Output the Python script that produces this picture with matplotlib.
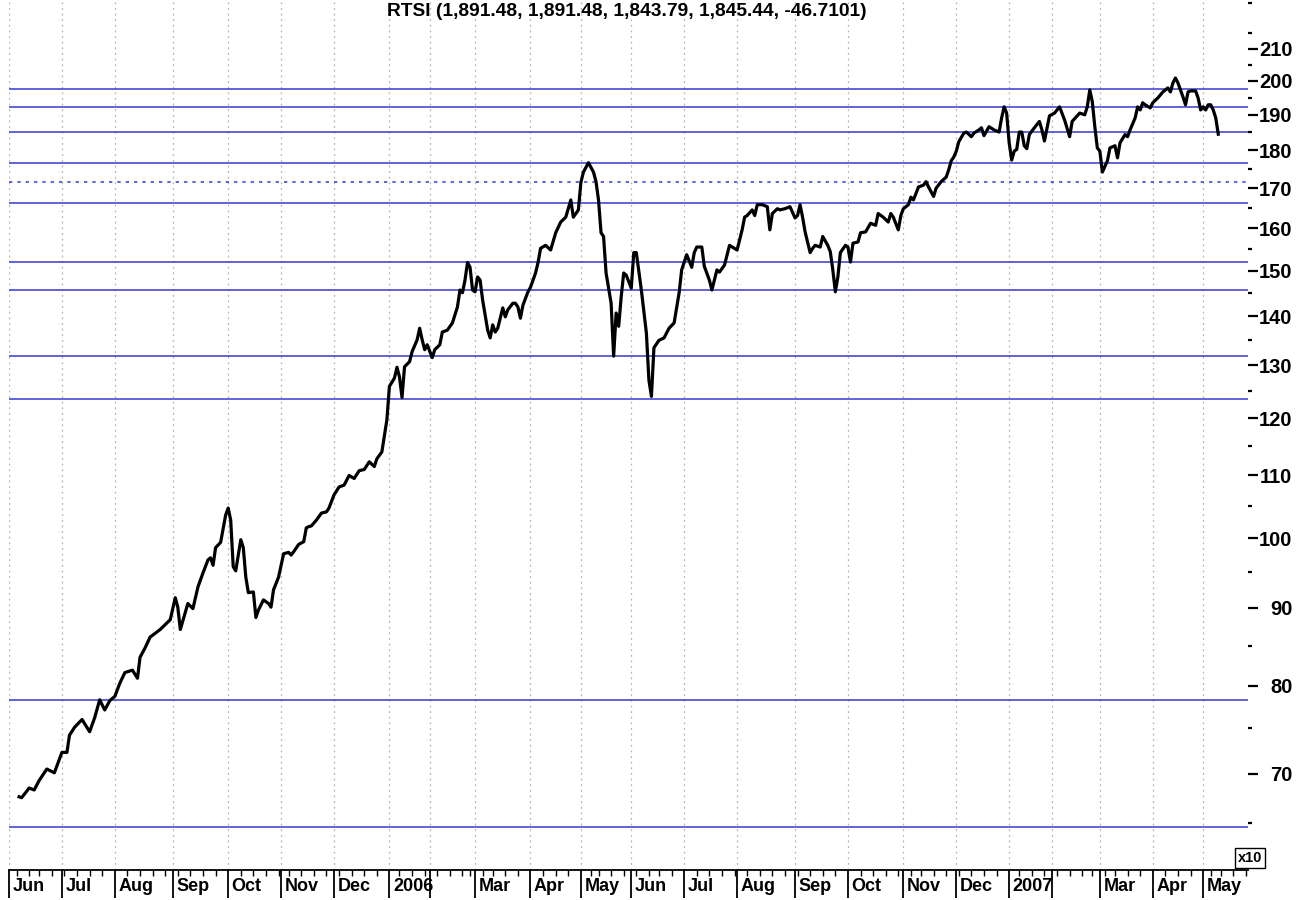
import numpy as np
import pandas as pd
import matplotlib
matplotlib.use('Agg')
import matplotlib.pyplot as plt
from matplotlib.ticker import FixedLocator, NullFormatter

# trading session number (counted from 1 Jun 2005) and RTSI close / 10
session = [4, 5, 8, 10, 12, 15, 18, 21, 23, 24, 26, 29, 32, 34, 36, 38, 40, 42, 44, 46,
           49, 51, 52, 54, 56, 60, 64, 66, 67, 68, 71, 73, 75, 77, 79, 80, 81, 82, 84, 86,
           87, 88, 89, 90, 92, 93, 94, 95, 97, 98, 99, 101, 103, 104, 105, 107, 109, 111, 112, 113,
           115, 117, 118, 119, 120, 122, 124, 126, 127, 129, 131, 133, 135, 137, 139, 141, 143, 145, 146, 148,
           150, 151, 153, 154, 155, 156, 157, 159, 160, 162, 163, 164, 165, 166, 168, 169, 171, 172, 174, 176,
           178, 179, 180, 181, 182, 183, 184, 185, 186, 187, 188, 190, 191, 192, 193, 194, 196, 197, 198, 200,
           201, 202, 203, 204, 206, 207, 209, 210, 211, 213, 215, 217, 219, 221, 223, 224, 226, 227, 228, 230,
           232, 233, 234, 235, 236, 237, 239, 240, 241, 242, 243, 244, 245, 247, 248, 249, 251, 253, 254, 255,
           256, 258, 260, 262, 264, 266, 267, 269, 271, 272, 273, 275, 276, 278, 279, 281, 282, 284, 286, 289,
           291, 292, 293, 295, 296, 297, 299, 301, 302, 303, 305, 306, 308, 310, 312, 313, 314, 315, 316, 318,
           319, 320, 322, 323, 325, 326, 327, 328, 329, 330, 332, 333, 334, 335, 337, 338, 340, 342, 344, 345,
           347, 349, 350, 351, 353, 354, 355, 357, 358, 359, 361, 363, 364, 365, 367, 368, 370, 372, 373, 374,
           375, 376, 377, 379, 380, 382, 383, 385, 386, 387, 389, 391, 393, 394, 395, 396, 397, 398, 399, 400,
           401, 402, 403, 404, 405, 407, 409, 410, 411, 413, 415, 417, 419, 421, 422, 424, 425, 427, 428, 429,
           430, 431, 432, 433, 434, 436, 437, 439, 440, 441, 443, 444, 445, 447, 448, 449, 450, 451, 453, 454,
           456, 458, 460, 461, 462, 463, 464, 466, 467, 468, 469, 471, 472, 473, 474, 475, 476, 477, 478, 479,
           480]
close = [67.6, 67.5, 68.5, 68.3, 69.3, 70.5, 70.1, 72.3, 72.3, 74.2, 75.1, 76.0, 74.6, 76.2, 78.3, 77.1, 78.2, 78.7, 80.3, 81.6,
         81.9, 80.9, 83.5, 84.7, 86.1, 87.1, 88.4, 91.4, 90.1, 87.1, 90.6, 89.9, 92.9, 94.9, 96.8, 97.1, 96.0, 98.6, 99.4, 103.6,
         104.7, 102.8, 95.8, 95.2, 99.8, 98.6, 94.3, 92.1, 92.2, 88.7, 89.7, 91.1, 90.6, 90.1, 92.5, 94.3, 97.7, 97.9, 97.5, 98.0,
         99.1, 99.5, 101.6, 101.8, 101.9, 102.8, 103.9, 104.1, 104.7, 106.8, 108.1, 108.4, 110.0, 109.5, 110.8, 111.0, 112.3, 111.5, 112.8, 114.0,
         119.7, 125.9, 127.5, 129.6, 127.7, 123.8, 129.7, 130.7, 132.7, 135.1, 137.5, 135.1, 133.1, 134.1, 131.5, 133.1, 134.1, 136.7, 137.1, 138.6,
         142.0, 145.7, 145.1, 147.9, 151.9, 150.8, 145.7, 145.3, 148.6, 147.9, 143.5, 137.1, 135.5, 138.2, 136.7, 137.5, 141.8, 139.9, 141.4, 142.8,
         142.8, 142.0, 139.6, 142.4, 145.3, 146.3, 149.5, 151.9, 155.2, 155.9, 154.8, 158.9, 161.5, 162.7, 167.0, 162.7, 164.5, 171.5, 174.2, 176.7,
         174.2, 171.7, 167.0, 158.9, 158.0, 149.5, 142.8, 131.8, 140.7, 137.9, 144.2, 149.5, 149.0, 146.1, 154.2, 154.2, 145.7, 136.5, 127.1, 124.0,
         133.5, 135.0, 135.5, 137.5, 138.6, 145.1, 150.2, 153.7, 150.8, 154.2, 155.5, 155.5, 151.0, 147.9, 145.7, 150.2, 149.7, 151.3, 155.9, 154.8,
         159.6, 162.7, 163.1, 164.5, 163.1, 165.8, 165.8, 165.3, 159.6, 163.6, 164.8, 164.5, 164.8, 165.3, 162.5, 163.1, 165.8, 162.7, 159.1, 154.2,
         155.2, 155.9, 155.5, 158.0, 155.9, 154.4, 150.2, 145.3, 148.6, 154.2, 155.9, 155.5, 152.0, 156.4, 156.7, 158.9, 159.1, 161.2, 160.7, 163.6,
         162.7, 161.5, 163.6, 162.7, 159.6, 163.1, 164.8, 165.8, 167.7, 167.0, 170.3, 170.8, 171.7, 170.3, 167.9, 170.0, 171.7, 172.9, 174.8, 177.2,
         178.2, 179.8, 182.4, 184.8, 185.1, 183.8, 184.8, 185.7, 186.3, 184.1, 186.6, 185.7, 185.1, 189.1, 192.3, 190.5, 182.1, 177.4, 179.8, 180.3,
         185.1, 185.1, 181.3, 180.5, 184.4, 186.3, 188.1, 185.7, 182.6, 189.7, 190.5, 192.3, 188.5, 183.8, 188.1, 189.7, 190.5, 190.0, 192.3, 197.3,
         193.8, 186.6, 180.7, 179.8, 174.2, 177.2, 180.7, 181.3, 178.0, 182.1, 184.4, 183.8, 185.7, 189.1, 192.3, 191.4, 193.5, 192.9, 192.0, 193.5,
         194.9, 196.7, 197.9, 196.7, 199.4, 200.9, 199.4, 195.2, 192.9, 196.7, 197.0, 197.0, 194.9, 191.4, 192.3, 191.4, 192.9, 192.9, 191.4, 189.1,
         184.5]

level_lines = [197.6, 192.3, 185.1, 176.7, 166.2, 152.1, 145.7, 131.9, 123.5, 78.3, 64.6]
dotted_levels = [171.7]

holidays = ['2005-06-13', '2005-11-04',
            '2006-01-02', '2006-01-03', '2006-01-04', '2006-01-05', '2006-01-06', '2006-01-09',
            '2006-02-23', '2006-02-24', '2006-03-08', '2006-05-01', '2006-05-08', '2006-05-09',
            '2006-06-12', '2006-11-06',
            '2007-01-01', '2007-01-02', '2007-01-03', '2007-01-04', '2007-01-05', '2007-01-08',
            '2007-02-23', '2007-03-08', '2007-04-30', '2007-05-01', '2007-05-09']

month_labels = ['Jun', 'Jul', 'Aug', 'Sep', 'Oct', 'Nov', 'Dec', '2006', '', 'Mar', 'Apr', 'May',
                'Jun', 'Jul', 'Aug', 'Sep', 'Oct', 'Nov', 'Dec', '2007', '', 'Mar', 'Apr', 'May']
y_major = [70, 80, 90, 100, 110, 120, 130, 140, 150, 160, 170, 180, 190, 200, 210]
y_minor = [65, 75, 85, 95, 105, 115, 125, 135, 145, 155, 165, 175, 185, 195, 205, 215, 225]

title = 'RTSI (1,891.48, 1,891.48, 1,843.79, 1,845.44, -46.7101)'

narrow = ['Liberation Sans Narrow', 'Liberation Sans']

# trading calendar -> positions of months / weeks
days = pd.bdate_range('2005-06-01', '2007-05-31')
days = days[~days.isin(pd.to_datetime(holidays))]
mon = days.to_period('M')
wk = days.to_period('W')
idx = np.arange(len(days))
month_pos = idx[np.r_[True, mon[1:] != mon[:-1]]]
week_pos = idx[np.r_[True, wk[1:] != wk[:-1]]]

W, H = 1307, 900
fig = plt.figure(figsize=(W / 100, H / 100), dpi=100)
ax = fig.add_axes([9 / W, 30 / H, (1248 - 9) / W, 870 / H])

blue = '#4848d4'
for lv in level_lines:
    ax.axhline(lv, color=blue, lw=1.2, zorder=2)
for lv in dotted_levels:
    ax.axhline(lv, color=blue, lw=1.2, ls=(0, (2, 3)), zorder=2)

ax.plot(session, close, color='black', lw=2.3, zorder=3)

ax.set_yscale('log')
ax.set_ylim(60.5, 226.1)
ax.set_xlim(3.3, 491.8)

for s in ['top', 'left', 'right']:
    ax.spines[s].set_visible(False)
ax.spines['bottom'].set_linewidth(1.3)

ax.yaxis.tick_right()
ax.yaxis.set_major_locator(FixedLocator(y_major))
ax.yaxis.set_minor_locator(FixedLocator(y_minor))
ax.yaxis.set_minor_formatter(NullFormatter())
ax.set_yticklabels([str(v) for v in y_major])
ax.tick_params(axis='y', which='major', length=7, width=1.6, pad=25,
               labelsize=14.5)
ax.tick_params(axis='y', which='minor', length=3, width=1.6)
for lbl in ax.get_yticklabels():
    lbl.set_ha('right')
    lbl.set_fontfamily(narrow)
    lbl.set_fontweight('bold')

ax.set_xticks(month_pos)
ax.set_xticks(week_pos, minor=True)
ax.set_xticklabels([])
ax.tick_params(axis='x', which='major', length=20, width=1.3)
ax.tick_params(axis='x', which='minor', length=4, width=1.0)
ax.grid(axis='x', which='major', color='#b5b5b5', ls=(0, (1.5, 3)), lw=0.9)

for pos, lab in zip(month_pos, month_labels):
    ax.annotate(lab, xy=(pos, 0), xycoords=('data', 'axes fraction'),
                xytext=(2.5, -5.5), textcoords='offset points', ha='left', va='top',
                fontsize=13, fontweight='bold', family='Liberation Sans',
                annotation_clip=False)

fig.text(627 / W, 1 - 12 / H, title, ha='center', va='center', fontsize=13.8,
         fontweight='bold', family=narrow)
fig.text(1250 / W, 1 - 858 / H, 'x10', ha='center', va='center', fontsize=10.5,
         fontweight='bold', family=narrow,
         bbox=dict(boxstyle='square,pad=0.2', fc='white', ec='black', lw=1))

fig.savefig('out.png', dpi=100, facecolor='white')
